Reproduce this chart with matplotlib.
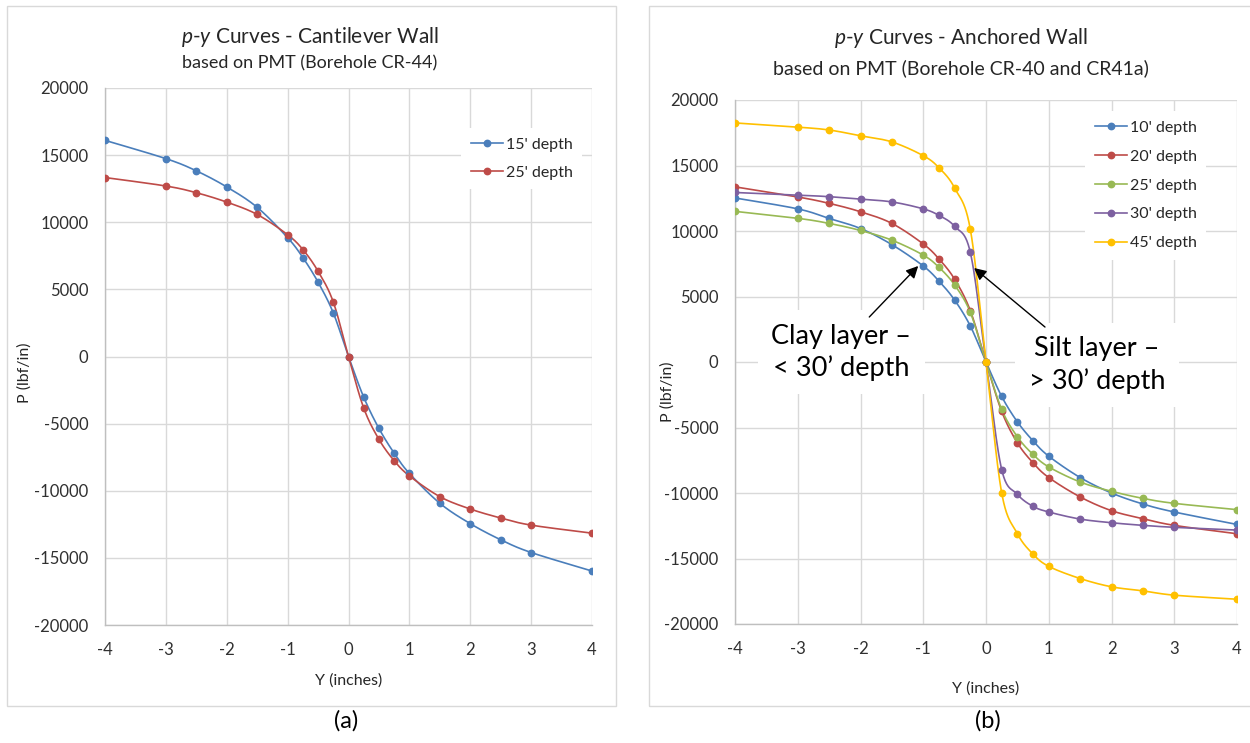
import numpy as np
import matplotlib
matplotlib.use("Agg")
import matplotlib.pyplot as plt
from matplotlib.lines import Line2D
from matplotlib.patches import Rectangle

plt.rcParams['font.family'] = ['Lato', 'DejaVu Sans']
plt.rcParams['mathtext.fontset'] = 'custom'
plt.rcParams['mathtext.rm'] = 'Lato'
plt.rcParams['mathtext.it'] = 'Lato:italic'
plt.rcParams['axes.unicode_minus'] = False

# ---------------- data ----------------
y_in = [-4, -3, -2.5, -2, -1.5, -1, -0.75, -0.5, -0.25, 0,
        0.25, 0.5, 0.75, 1, 1.5, 2, 2.5, 3, 4]

# (a) cantilever wall
cant_labels = ["15' depth", "25' depth"]
p_cant_15 = [16100, 14740, 13830, 12630, 11110, 8850, 7370, 5540, 3250, 0,
             -3030, -5360, -7200, -8710, -10930, -12450, -13650, -14600, -15980]
p_cant_25 = [13330, 12700, 12200, 11500, 10580, 9070, 7970, 6350, 4060, 0,
             -3840, -6170, -7760, -8890, -10440, -11360, -12030, -12560, -13160]

# (b) anchored wall
anch_labels = ["10' depth", "20' depth", "25' depth", "30' depth", "45' depth"]
p_anch_10 = [12520, 11690, 10960, 10190, 8960, 7330, 6180, 4730, 2750, 0,
             -2630, -4570, -6020, -7190, -8820, -10000, -10840, -11450, -12400]
p_anch_20 = [13370, 12600, 12110, 11470, 10580, 9010, 7870, 6320, 3920, 0,
             -3770, -6170, -7700, -8820, -10300, -11350, -11960, -12470, -13110]
p_anch_25 = [11500, 10970, 10580, 10040, 9300, 8160, 7230, 5880, 3790, 0,
             -3620, -5710, -7060, -8010, -9160, -9870, -10410, -10790, -11270]
p_anch_30 = [12940, 12740, 12620, 12430, 12220, 11690, 11190, 10350, 8370, 0,
             -8210, -10100, -11020, -11450, -11990, -12270, -12470, -12620, -12830]
p_anch_45 = [18250, 17930, 17710, 17270, 16800, 15750, 14830, 13280, 10130, 0,
             -9990, -13100, -14670, -15600, -16530, -17160, -17470, -17800, -18110]

c_blue, c_red, c_green, c_purple, c_yellow = '#4A7EBB', '#BE4B48', '#98B954', '#7D60A0', '#FFC000'

W, H = 1250, 743
fig = plt.figure(figsize=(W / 100, H / 100), dpi=100)
fig.patch.set_facecolor('white')


def fx(px):
    return px / W


def fy(py):
    return 1 - py / H


def smooth(x, y, n=24):
    P = np.column_stack([x, y]).astype(float)
    Pm = np.vstack([P[0], P, P[-1]])
    t = np.linspace(0, 1, n)[:, None]
    out = []
    for i in range(len(P) - 1):
        p0, p1, p2, p3 = Pm[i], Pm[i + 1], Pm[i + 2], Pm[i + 3]
        c1 = p1 + (p2 - p0) / 6
        c2 = p2 - (p3 - p1) / 6
        B = (1 - t) ** 3 * p1 + 3 * (1 - t) ** 2 * t * c1 + 3 * (1 - t) * t ** 2 * c2 + t ** 3 * p2
        out.append(B if i == 0 else B[1:])
    B = np.vstack(out)
    return B[:, 0], B[:, 1]


def style_axes(ax):
    ax.set_xlim(-4, 4)
    ax.set_ylim(-20000, 20000)
    ax.set_xticks(range(-4, 5))
    ax.set_yticks(range(-20000, 20001, 5000))
    ax.grid(True, color='#D9D9D9', lw=1.0, zorder=0)
    ax.set_axisbelow(True)
    for s in ['top', 'right']:
        ax.spines[s].set_visible(False)
    for s in ['left', 'bottom']:
        ax.spines[s].set_color('#BFBFBF')
        ax.spines[s].set_linewidth(1.0)
    ax.tick_params(axis='both', length=0, labelsize=12, colors='#303030')
    ax.tick_params(axis='y', pad=12)
    ax.tick_params(axis='x', pad=12)


def draw_series(ax, x, y, color):
    sx, sy = smooth(x, y)
    ax.plot(sx, sy, color=color, lw=1.2, zorder=3)
    ax.plot(x, y, 'o', color=color, ms=4.6, zorder=4)
    return Line2D([0], [0], color=color, lw=1.2, marker='o', ms=4.6)


# frames
fig.add_artist(Rectangle((fx(7), fy(706)), fx(616) - fx(7), fy(6) - fy(706),
                         transform=fig.transFigure, fill=False, ec='#D9D9D9', lw=1.0))
fig.add_artist(Rectangle((fx(649), fy(706)), fx(1262) - fx(649), fy(6) - fy(706),
                         transform=fig.transFigure, fill=False, ec='#D9D9D9', lw=1.0))

# ---------------- (a) ----------------
axA = fig.add_axes([fx(105), fy(625), fx(592) - fx(105), fy(88) - fy(625)])
style_axes(axA)
hA = [draw_series(axA, y_in, p_cant_15, c_blue),
      draw_series(axA, y_in, p_cant_25, c_red)]
legA = axA.legend(hA, cant_labels, loc='upper left', bbox_to_anchor=(fx(461), fy(128)),
                  bbox_transform=fig.transFigure, frameon=True, fancybox=False,
                  facecolor='white', edgecolor='none', framealpha=1, fontsize=11.5,
                  handlelength=2.0, handletextpad=0.2, labelspacing=0.85, borderpad=0.6,
                  borderaxespad=0)
for t in legA.get_texts():
    t.set_color('#262626')

fig.text(fx(310), fy(37), r"$p$-$y$ Curves - Cantilever Wall", ha='center', va='center',
         fontsize=15, color='#262626')
fig.text(fx(310), fy(63), "based on PMT (Borehole CR-44)", ha='center', va='center',
         fontsize=13, color='#262626')
fig.text(fx(25), fy(373), "P (lbf/in)", ha='center', va='center', rotation=90,
         fontsize=11.5, color='#262626')
fig.text(fx(349), fy(681), "Y (inches)", ha='center', va='center', fontsize=11.5, color='#262626')
fig.text(fx(346), fy(721), "(a)", ha='center', va='center', fontsize=17, color='black')

# ---------------- (b) ----------------
axB = fig.add_axes([fx(735), fy(624), fx(1237) - fx(735), fy(100) - fy(624)])
style_axes(axB)
hB = [draw_series(axB, y_in, p_anch_10, c_blue),
      draw_series(axB, y_in, p_anch_20, c_red),
      draw_series(axB, y_in, p_anch_25, c_green),
      draw_series(axB, y_in, p_anch_30, c_purple),
      draw_series(axB, y_in, p_anch_45, c_yellow)]
legB = axB.legend(hB, anch_labels, loc='upper left', bbox_to_anchor=(fx(1085), fy(111)),
                  bbox_transform=fig.transFigure, frameon=True, fancybox=False,
                  facecolor='white', edgecolor='none', framealpha=1, fontsize=11.5,
                  handlelength=2.0, handletextpad=0.2, labelspacing=0.92, borderpad=0.6,
                  borderaxespad=0)
for t in legB.get_texts():
    t.set_color('#262626')

fig.text(fx(961), fy(38), r"$p$-$y$ Curves - Anchored Wall", ha='center', va='center',
         fontsize=15, color='#262626')
fig.text(fx(961), fy(68), "based on PMT (Borehole CR-40 and CR41a)", ha='center', va='center',
         fontsize=14, color='#262626')
fig.text(fx(668), fy(392), "P (lbf/in)", ha='center', va='center', rotation=90,
         fontsize=11.5, color='#262626')
fig.text(fx(986), fy(689), "Y (inches)", ha='center', va='center', fontsize=11.5, color='#262626')
fig.text(fx(988), fy(721), "(b)", ha='center', va='center', fontsize=17, color='black')

# annotations
box = dict(boxstyle='square,pad=0.5', fc='white', ec='none')
axB.text(-2.31, 760, "Clay layer –\n< 30’ depth", ha='center', va='center', fontsize=19.5,
         linespacing=1.3, color='black', bbox=box, zorder=5)
axB.text(1.77, -230, "Silt layer –\n> 30’ depth", ha='center', va='center', fontsize=19.5,
         linespacing=1.3, color='black', bbox=box, zorder=5)
arrow = dict(arrowstyle='-|>', color='black', lw=1.0, mutation_scale=18, shrinkA=0, shrinkB=0)
axB.annotate("", xy=(-1.08, 7330), xytext=(-1.86, 3435), arrowprops=arrow, zorder=6)
axB.annotate("", xy=(-0.19, 7175), xytext=(0.94, 2670), arrowprops=arrow, zorder=6)

fig.savefig("out.png", dpi=100, facecolor='white')
